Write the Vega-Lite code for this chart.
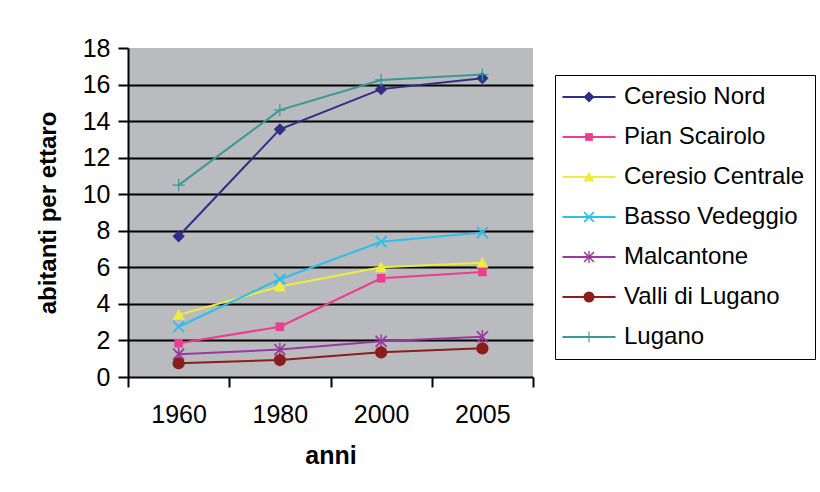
{
  "$schema": "https://vega.github.io/schema/vega-lite/v6.json",
  "width": 405,
  "height": 329,
  "autosize": {"type": "none"},
  "padding": {"left": 128, "top": 48, "right": 287, "bottom": 115},
  "background": "white",
  "config": {
    "font": "Liberation Sans",
    "view": {"fill": "#b9bbbe", "stroke": null}
  },
  "data": {
    "values": [
      {"zona": "Ceresio Nord", "anno": "1960", "valore": 7.7},
      {"zona": "Ceresio Nord", "anno": "1980", "valore": 13.55},
      {"zona": "Ceresio Nord", "anno": "2000", "valore": 15.75},
      {"zona": "Ceresio Nord", "anno": "2005", "valore": 16.35},
      {"zona": "Pian Scairolo", "anno": "1960", "valore": 1.85},
      {"zona": "Pian Scairolo", "anno": "1980", "valore": 2.75},
      {"zona": "Pian Scairolo", "anno": "2000", "valore": 5.4},
      {"zona": "Pian Scairolo", "anno": "2005", "valore": 5.75},
      {"zona": "Ceresio Centrale", "anno": "1960", "valore": 3.4},
      {"zona": "Ceresio Centrale", "anno": "1980", "valore": 4.95},
      {"zona": "Ceresio Centrale", "anno": "2000", "valore": 6.0},
      {"zona": "Ceresio Centrale", "anno": "2005", "valore": 6.25},
      {"zona": "Basso Vedeggio", "anno": "1960", "valore": 2.75},
      {"zona": "Basso Vedeggio", "anno": "1980", "valore": 5.35},
      {"zona": "Basso Vedeggio", "anno": "2000", "valore": 7.4},
      {"zona": "Basso Vedeggio", "anno": "2005", "valore": 7.9},
      {"zona": "Malcantone", "anno": "1960", "valore": 1.25},
      {"zona": "Malcantone", "anno": "1980", "valore": 1.5},
      {"zona": "Malcantone", "anno": "2000", "valore": 1.95},
      {"zona": "Malcantone", "anno": "2005", "valore": 2.2},
      {"zona": "Valli di Lugano", "anno": "1960", "valore": 0.75},
      {"zona": "Valli di Lugano", "anno": "1980", "valore": 0.93},
      {"zona": "Valli di Lugano", "anno": "2000", "valore": 1.35},
      {"zona": "Valli di Lugano", "anno": "2005", "valore": 1.57},
      {"zona": "Lugano", "anno": "1960", "valore": 10.5},
      {"zona": "Lugano", "anno": "1980", "valore": 14.6},
      {"zona": "Lugano", "anno": "2000", "valore": 16.25},
      {"zona": "Lugano", "anno": "2005", "valore": 16.55}
    ]
  },
  "encoding": {
    "x": {
      "field": "anno",
      "type": "ordinal",
      "scale": {"type": "band", "paddingInner": 0, "paddingOuter": 0},
      "axis": {
        "title": "anni",
        "titleFontSize": 25,
        "titleFontWeight": "bold",
        "titleColor": "black",
        "titlePadding": 16,
        "labelAngle": 0,
        "labelFontSize": 25,
        "labelColor": "black",
        "labelPadding": 15,
        "tickBand": "extent",
        "tickSize": 10,
        "tickColor": "black",
        "tickWidth": 2,
        "domainColor": "black",
        "domainWidth": 2,
        "grid": false
      }
    },
    "y": {
      "field": "valore",
      "type": "quantitative",
      "scale": {"domain": [0, 18], "nice": false},
      "axis": {
        "title": "abitanti per ettaro",
        "titleFontSize": 24,
        "titleFontWeight": "bold",
        "titleColor": "black",
        "titlePadding": 22,
        "values": [0, 2, 4, 6, 8, 10, 12, 14, 16, 18],
        "labelFontSize": 25,
        "labelColor": "black",
        "labelPadding": 8,
        "tickSize": 10,
        "tickColor": "black",
        "tickWidth": 2,
        "domainColor": "black",
        "domainWidth": 2,
        "grid": true,
        "gridColor": {"condition": {"test": "datum.value == 18 || datum.value == 0", "value": "transparent"}, "value": "black"},
        "gridWidth": 2,
        "gridOpacity": 1
      }
    }
  },
  "layer": [
    {
      "mark": {"type": "line", "strokeWidth": 2},
      "encoding": {
        "color": {
          "field": "zona",
          "type": "nominal",
          "sort": ["Ceresio Nord", "Pian Scairolo", "Ceresio Centrale", "Basso Vedeggio", "Malcantone", "Valli di Lugano", "Lugano"],
          "scale": {
            "range": ["#2f2f88", "#ec3d8e", "#f0ec3c", "#2cbfe9", "#9a3a9e", "#8c1d1d", "#3a9996"]
          },
          "legend": {
            "orient": "none",
            "legendX": 427,
            "legendY": 27,
            "title": null,
            "strokeColor": "black",
            "padding": 10,
            "symbolType": "M-4.82,0L4.82,0",
            "symbolSize": 121,
            "symbolStrokeWidth": 2,
            "symbolOffset": 12,
            "labelFontSize": 24,
            "labelColor": "black",
            "labelLimit": 400,
            "labelOffset": 23,
            "rowPadding": 16
          }
        }
      }
    },
    {
      "mark": {"type": "point", "filled": true, "opacity": 1, "size": 150},
      "encoding": {
        "fill": {
          "field": "zona",
          "type": "nominal",
          "scale": {
            "domain": ["Ceresio Nord", "Pian Scairolo", "Ceresio Centrale", "Basso Vedeggio", "Malcantone", "Valli di Lugano", "Lugano"],
            "range": ["#2f2f88", "#ec3d8e", "#f0ec3c", "#2cbfe9", "#9a3a9e", "#8c1d1d", "#3a9996"]
          },
          "legend": {
            "orient": "none",
            "legendX": 427,
            "legendY": 27,
            "title": null,
            "padding": 10,
            "symbolSize": 121,
            "symbolOffset": 12,
            "labelFontSize": 24,
            "labelOpacity": 0,
            "labelLimit": 400,
            "labelOffset": 23,
            "rowPadding": 16
          }
        },
        "shape": {
          "field": "zona",
          "type": "nominal",
          "scale": {
            "domain": ["Ceresio Nord", "Pian Scairolo", "Ceresio Centrale", "Basso Vedeggio", "Malcantone", "Valli di Lugano", "Lugano"],
            "range": [
              "M0,-1L1,0L0,1L-1,0Z",
              "M-0.7,-0.7L0.7,-0.7L0.7,0.7L-0.7,0.7Z",
              "M0,-0.95L1,0.8L-1,0.8Z",
              "M0,-0.22L0.78,-1L1,-0.78L0.22,0L1,0.78L0.78,1L0,0.22L-0.78,1L-1,0.78L-0.22,0L-1,-0.78L-0.78,-1Z",
              "M0,-0.2L0.8,-1L1,-0.8L0.2,0L1,0.8L0.8,1L0,0.2L-0.8,1L-1,0.8L-0.2,0L-1,-0.8L-0.8,-1ZM-0.12,-1.1L0.12,-1.1L0.12,1.1L-0.12,1.1Z",
              "circle",
              "M-0.1,-1L0.1,-1L0.1,-0.1L1,-0.1L1,0.1L0.1,0.1L0.1,1L-0.1,1L-0.1,0.1L-1,0.1L-1,-0.1L-0.1,-0.1Z"
            ]
          },
          "legend": {
            "orient": "none",
            "legendX": 427,
            "legendY": 27,
            "title": null,
            "padding": 10,
            "symbolSize": 121,
            "symbolOffset": 12,
            "labelFontSize": 24,
            "labelOpacity": 0,
            "labelLimit": 400,
            "labelOffset": 23,
            "rowPadding": 16
          }
        }
      }
    }
  ]
}
